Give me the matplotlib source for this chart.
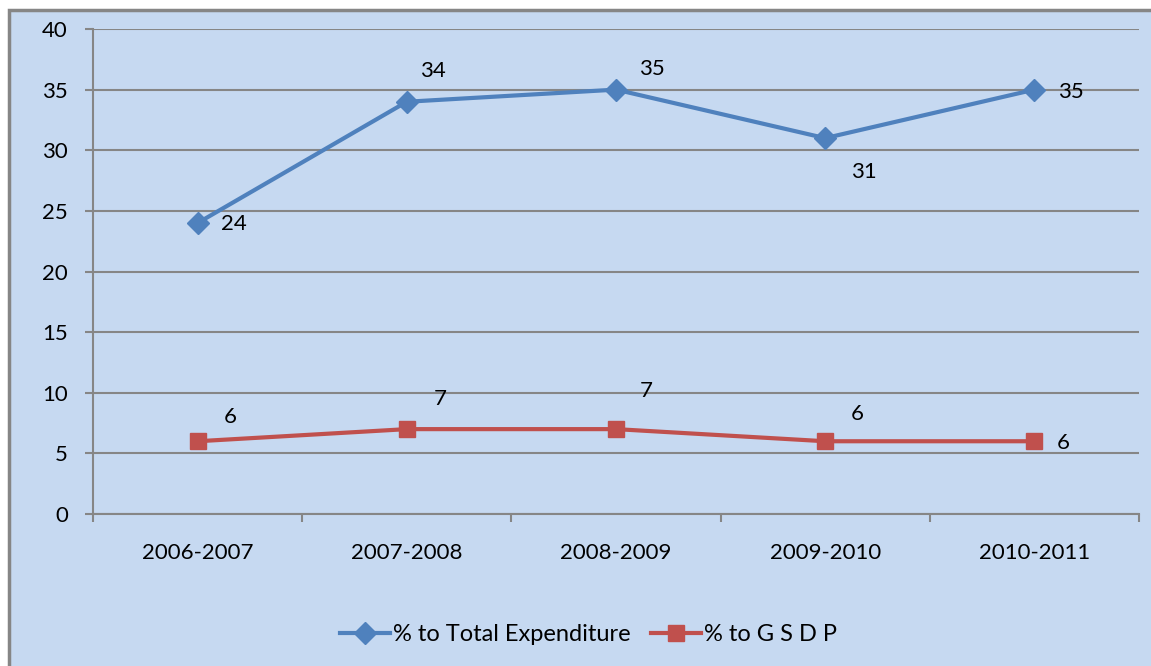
import matplotlib.pyplot as plt
from matplotlib.patches import Rectangle
from matplotlib.ticker import FixedLocator

plt.rcParams['font.family'] = ['Lato', 'DejaVu Sans']

years = ['2006-2007', '2007-2008', '2008-2009', '2009-2010', '2010-2011']
total_exp = [24, 34, 35, 31, 35]
gsdp = [6, 7, 7, 6, 6]

# label offsets in pixels (dx, dy) relative to each point
total_offsets = [(36, -1), (26, 31), (36, 21), (39, -34), (36, -2)]
gsdp_offsets = [(33, 24), (33, 30), (30, 38), (32, 27), (29, -2)]

blue = '#4F81BD'
red = '#C0504D'
bg = '#C6D9F1'
edge = '#868686'
fs = 16

fig = plt.figure(figsize=(11.51, 6.66), dpi=100)
fig.patch.set_facecolor('white')
fig.patches.append(Rectangle((9 / 1151, -0.1), 1.2, (666 - 10) / 666 + 0.1,
                             transform=fig.transFigure, facecolor=bg,
                             edgecolor=edge, linewidth=2.5, zorder=-1))

ax = fig.add_axes([93 / 1151, (666 - 514) / 666, (1139 - 93) / 1151, (514 - 29) / 666])
ax.set_facecolor(bg)
x = range(len(years))
ax.plot(x, total_exp, color=blue, lw=3, marker='D', ms=11, label='% to Total Expenditure', zorder=3)
ax.plot(x, gsdp, color=red, lw=3, marker='s', ms=12, label='% to G S D P', zorder=3)

for i, v in enumerate(total_exp):
    ax.annotate(str(v), (i, v), xytext=total_offsets[i], textcoords='offset pixels',
                ha='center', va='center', fontsize=fs)
for i, v in enumerate(gsdp):
    ax.annotate(str(v), (i, v), xytext=gsdp_offsets[i], textcoords='offset pixels',
                ha='center', va='center', fontsize=fs)

ax.set_xlim(-0.5, 4.5)
ax.set_ylim(0, 40)
ax.set_yticks(range(0, 41, 5))
ax.set_xticks(list(x))
ax.set_xticklabels(years)
ax.xaxis.set_minor_locator(FixedLocator([i - 0.5 for i in range(6)]))
ax.tick_params(axis='x', which='major', length=0, pad=21, labelsize=fs)
ax.tick_params(axis='x', which='minor', length=6, width=1.5, color=edge, direction='out')
ax.tick_params(axis='y', length=6, width=1.5, color=edge, pad=12, labelsize=fs)
ax.grid(axis='y', color=edge, lw=1.5)
ax.set_axisbelow(True)
for s in ['top', 'right']:
    ax.spines[s].set_visible(False)
for s in ['left', 'bottom']:
    ax.spines[s].set_color(edge)
    ax.spines[s].set_linewidth(1.5)

ax.legend(loc='center', bbox_to_anchor=(0.474, -0.249), ncol=2, frameon=False,
          fontsize=17, handlelength=2.1, handletextpad=0.15, columnspacing=0.85)

fig.savefig('out.png', dpi=100)
